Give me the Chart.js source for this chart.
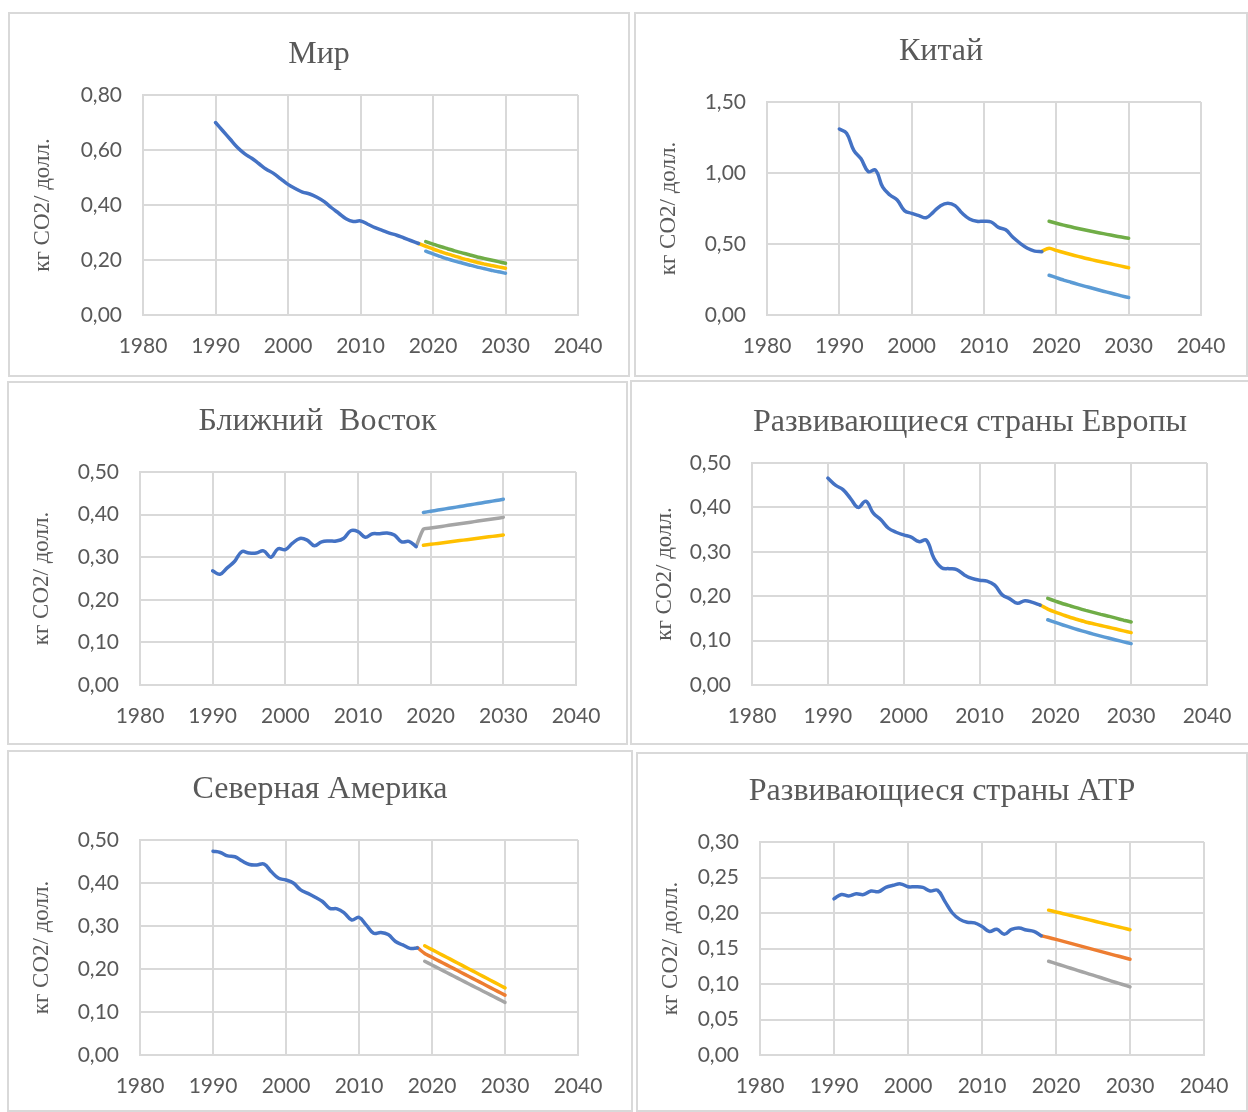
<!DOCTYPE html>
<html>
<head>
<meta charset="utf-8">
<script src="https://cdn.jsdelivr.net/npm/chart.js@4.4.1/dist/chart.umd.min.js"></script>
<style>
html, body { margin:0; padding:0; background:#fff; overflow:hidden; width:1248px; height:1112px; }
.frame { position:absolute; border:2px solid #d9d9d9; box-sizing:border-box; }
.holder { position:absolute; }
</style>
</head>
<body>
<script>
// years
const histYears = [1990,1991,1992,1993,1994,1995,1996,1997,1998,1999,2000,2001,2002,2003,2004,2005,2006,2007,2008,2009,2010,2011,2012,2013,2014,2015,2016,2017,2018];
const fcYears18 = [2018,2019,2020,2021,2022,2023,2024,2025,2026,2027,2028,2029,2030];
const fcYears19 = [2019,2020,2021,2022,2023,2024,2025,2026,2027,2028,2029,2030];
const xTicks = [1980,1990,2000,2010,2020,2030,2040];

// Мир
const worldHist = [0.70,0.67,0.64,0.61,0.587,0.57,0.55,0.53,0.515,0.495,0.475,0.46,0.447,0.44,0.428,0.412,0.39,0.37,0.35,0.34,0.342,0.33,0.318,0.308,0.298,0.29,0.28,0.27,0.26];
const worldBase = [0.26,0.25,0.24,0.231,0.222,0.214,0.206,0.199,0.192,0.186,0.18,0.175,0.17];
const worldHigh = [0.267,0.258,0.249,0.241,0.233,0.226,0.219,0.212,0.206,0.2,0.194,0.188];
const worldLow = [0.232,0.222,0.213,0.204,0.196,0.189,0.182,0.175,0.169,0.163,0.157,0.152];

// Китай
const chinaHist = [1.31,1.28,1.16,1.10,1.01,1.02,0.90,0.845,0.81,0.735,0.716,0.70,0.685,0.725,0.77,0.787,0.77,0.716,0.676,0.66,0.66,0.655,0.617,0.60,0.547,0.505,0.47,0.45,0.446];
const chinaBase = [0.45,0.47,0.455,0.44,0.426,0.413,0.40,0.388,0.377,0.366,0.355,0.344,0.333];
const chinaHigh = [0.66,0.646,0.633,0.621,0.609,0.598,0.588,0.578,0.568,0.558,0.549,0.54];
const chinaLow = [0.28,0.263,0.246,0.231,0.216,0.202,0.188,0.174,0.161,0.148,0.135,0.123];

// Ближний Восток
const meHist = [0.268,0.26,0.275,0.29,0.313,0.31,0.31,0.315,0.30,0.32,0.318,0.333,0.344,0.34,0.327,0.336,0.338,0.338,0.344,0.362,0.36,0.347,0.355,0.355,0.357,0.352,0.336,0.337,0.325];
const meMid = [0.325,0.366,0.3685,0.371,0.3735,0.376,0.3785,0.381,0.3835,0.386,0.3885,0.391,0.3935];
const meHigh = [0.405,0.4078,0.4106,0.4134,0.4162,0.419,0.4218,0.4246,0.4274,0.4302,0.433,0.4358];
const meLow = [0.328,0.3302,0.3324,0.3346,0.3368,0.339,0.3412,0.3434,0.3456,0.3478,0.35,0.3522];

// Развивающиеся страны Европы
const eurHist = [0.466,0.45,0.44,0.42,0.40,0.414,0.387,0.372,0.353,0.344,0.338,0.333,0.323,0.326,0.285,0.264,0.262,0.26,0.248,0.24,0.236,0.234,0.225,0.203,0.194,0.184,0.19,0.186,0.18];
const eurBase = [0.18,0.171,0.164,0.158,0.152,0.147,0.142,0.138,0.134,0.13,0.126,0.122,0.118];
const eurHigh = [0.195,0.189,0.183,0.178,0.173,0.168,0.1635,0.159,0.155,0.1505,0.146,0.142];
const eurLow = [0.147,0.141,0.1352,0.1297,0.1245,0.1195,0.1147,0.1101,0.1057,0.1014,0.0972,0.0932];

// Северная Америка
const naHist = [0.474,0.471,0.463,0.461,0.451,0.443,0.442,0.444,0.426,0.411,0.407,0.40,0.384,0.376,0.367,0.357,0.341,0.34,0.33,0.314,0.32,0.302,0.283,0.285,0.28,0.264,0.256,0.248,0.249];
const naBase = [0.25,0.236,0.2272,0.2184,0.2096,0.2008,0.192,0.1832,0.1744,0.1656,0.1568,0.148,0.1392];
const naHigh = [0.254,0.2451,0.2362,0.2273,0.2184,0.2095,0.2006,0.1917,0.1828,0.1739,0.165,0.1561];
const naLow = [0.218,0.2093,0.2006,0.1919,0.1832,0.1745,0.1658,0.1571,0.1484,0.1397,0.131,0.1223];

// Развивающиеся страны АТР
const apHist = [0.22,0.226,0.224,0.227,0.226,0.231,0.23,0.236,0.239,0.241,0.237,0.237,0.236,0.231,0.232,0.216,0.20,0.191,0.187,0.186,0.181,0.174,0.177,0.17,0.177,0.179,0.176,0.174,0.168];
const apBase = [0.168,0.1655,0.1628,0.16,0.1572,0.1544,0.1516,0.1488,0.146,0.1432,0.1404,0.1376,0.1348];
const apHigh = [0.204,0.2015,0.199,0.1965,0.194,0.1915,0.189,0.1865,0.184,0.1815,0.179,0.1765];
const apLow = [0.132,0.1287,0.1255,0.1222,0.1189,0.1156,0.1124,0.1091,0.1058,0.1025,0.0993,0.096];

const BLUE = '#4472C4', YELLOW = '#FFC000', GREEN = '#70AD47', LBLUE = '#5B9BD5', GRAY = '#A5A5A5', ORANGE = '#ED7D31';
const TEXT = '#595959', GRID = '#d9d9d9';

const panels = [
  { title: 'Мир', hist: worldHist, yMax: 0.8, yStep: 0.2,
    series: [[GREEN, fcYears19, worldHigh], [LBLUE, fcYears19, worldLow], [YELLOW, fcYears18, worldBase]],
    box: [8, 12, 622, 365], area: [143, 578, 95, 315], titleY: 55 },
  { title: 'Китай', hist: chinaHist, yMax: 1.5, yStep: 0.5,
    series: [[GREEN, fcYears19, chinaHigh], [LBLUE, fcYears19, chinaLow], [YELLOW, fcYears18, chinaBase]],
    box: [634, 12, 614, 365], area: [767, 1201, 102, 315], titleY: 52 },
  { title: 'Ближний  Восток', hist: meHist, yMax: 0.5, yStep: 0.1,
    series: [[LBLUE, fcYears19, meHigh], [YELLOW, fcYears19, meLow], [GRAY, fcYears18, meMid]],
    box: [7, 381, 621, 364], area: [140, 576, 472, 685], titleY: 422 },
  { title: 'Развивающиеся страны Европы', hist: eurHist, yMax: 0.5, yStep: 0.1,
    series: [[GREEN, fcYears19, eurHigh], [LBLUE, fcYears19, eurLow], [YELLOW, fcYears18, eurBase]],
    box: [630, 380, 680, 365], area: [752, 1207, 463, 685], titleY: 423 },
  { title: 'Северная Америка', hist: naHist, yMax: 0.5, yStep: 0.1,
    series: [[YELLOW, fcYears19, naHigh], [GRAY, fcYears19, naLow], [ORANGE, fcYears18, naBase]],
    box: [7, 750, 626, 362], area: [140, 578, 840, 1055], titleY: 790 },
  { title: 'Развивающиеся страны АТР', hist: apHist, yMax: 0.3, yStep: 0.05,
    series: [[YELLOW, fcYears19, apHigh], [GRAY, fcYears19, apLow], [ORANGE, fcYears18, apBase]],
    box: [636, 752, 612, 360], area: [760, 1204, 842, 1055], titleY: 792 }
];

const toPoints = (xs, ys) => ys.map((v, i) => ({ x: xs[i], y: v }));

const makePanel = (p) => {
  const [left, top, w, h] = p.box;
  const frame = document.createElement('div');
  frame.className = 'frame';
  Object.assign(frame.style, { left: left + 'px', top: top + 'px', width: w + 'px', height: h + 'px' });
  document.body.appendChild(frame);

  const holder = document.createElement('div');
  holder.className = 'holder';
  Object.assign(holder.style, { left: left + 'px', top: top + 'px', width: w + 'px', height: h + 'px' });
  const canvas = document.createElement('canvas');
  canvas.width = w;
  canvas.height = h;
  holder.appendChild(canvas);
  document.body.appendChild(holder);

  const cl = p.area[0] - left, cr = p.area[1] - left;
  const ct = p.area[2] - top, cb = p.area[3] - top;
  const titleSize = 32, titleLine = titleSize * 1.2;
  const padTop = (p.titleY - top) - titleLine / 2;
  const padBottom = ct - padTop - titleLine;

  const datasets = [{ data: toPoints(histYears, p.hist), borderColor: BLUE, tension: 0.4 }];
  p.series.forEach(([color, xs, ys]) => datasets.push({ data: toPoints(xs, ys), borderColor: color, tension: 0.2 }));

  const tickFont = { family: 'Lato', size: 21 };

  new Chart(canvas, {
    type: 'line',
    data: { datasets },
    options: {
      responsive: false,
      animation: false,
      events: [],
      layout: { padding: 0 },
      elements: {
        point: { radius: 0 },
        line: { borderWidth: 3.5, fill: false, borderCapStyle: 'round', borderJoinStyle: 'round' }
      },
      plugins: {
        legend: { display: false },
        tooltip: { enabled: false },
        title: {
          display: true, text: p.title, color: TEXT,
          font: { family: 'Liberation Serif', size: titleSize, weight: 'normal', lineHeight: 1.2 },
          padding: { top: padTop, bottom: padBottom }
        }
      },
      scales: {
        x: {
          type: 'linear', min: xTicks[0], max: xTicks[xTicks.length - 1],
          afterBuildTicks: (s) => { s.ticks = xTicks.map(v => ({ value: v })); },
          ticks: { color: TEXT, font: tickFont, padding: 19, maxRotation: 0, callback: (v) => String(v) },
          grid: { color: GRID, lineWidth: 2, drawTicks: false },
          border: { color: GRID, width: 2 },
          afterFit: (s) => { s.height = h - cb; }
        },
        y: {
          min: 0, max: p.yMax,
          ticks: { stepSize: p.yStep, color: TEXT, font: tickFont, padding: 21,
                   callback: (v) => v.toFixed(2).replace('.', ',') },
          grid: { color: GRID, lineWidth: 2, drawTicks: false },
          border: { color: GRID, width: 2 },
          title: { display: true, text: 'кг CO2/ долл.', color: TEXT,
                   font: { family: 'Liberation Serif', size: 23, lineHeight: 1.2 },
                   padding: { top: 21, bottom: 0 } },
          afterFit: (s) => { s.width = cl; }
        },
        yr: {
          position: 'right', display: true,
          grid: { display: false }, border: { display: false }, ticks: { display: false },
          afterFit: (s) => { s.width = w - cr; }
        }
      }
    }
  });
};

panels.forEach(makePanel);
</script>
</body>
</html>
